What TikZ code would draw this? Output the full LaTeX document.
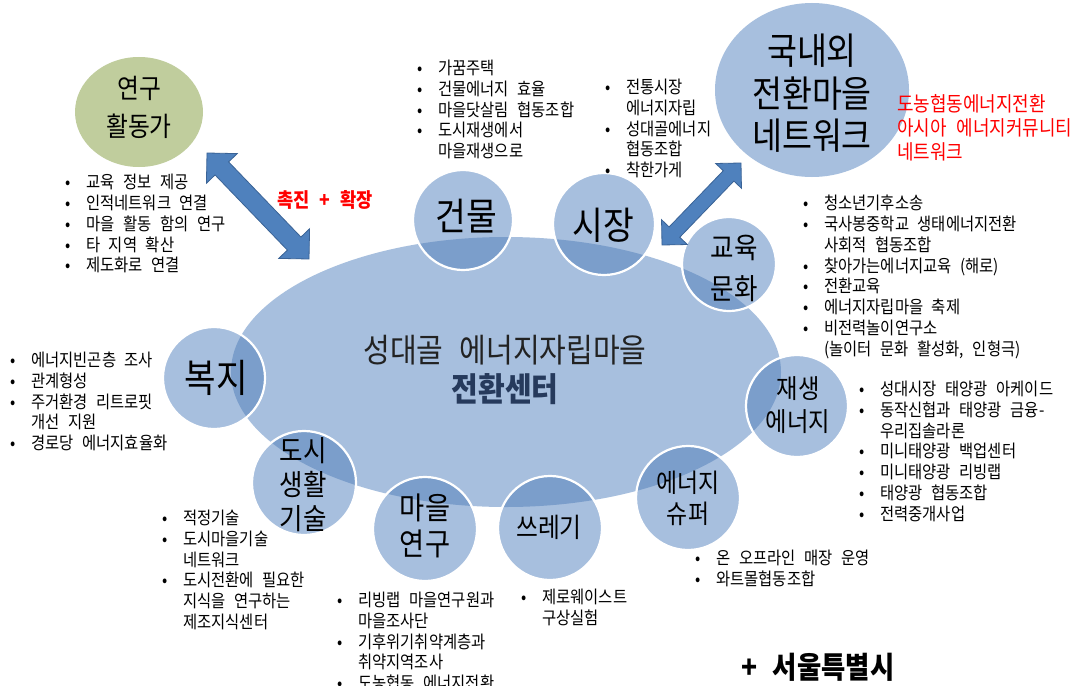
\documentclass[tikz,border=0pt]{standalone}
\usepackage{fontspec}
\setmainfont[FakeStretch=0.88, WordSpace=2.5]{Noto Sans CJK KR}
\usepackage{array}
\usetikzlibrary{shapes.arrows,calc}
\definecolor{bubble}{RGB}{167,191,222}
\definecolor{overlapc}{RGB}{123,158,203}
\definecolor{sage}{RGB}{192,205,157}
\definecolor{arrowblue}{RGB}{79,129,189}
\definecolor{arrowedge}{RGB}{58,99,150}
\definecolor{navy}{RGB}{38,58,92}
\definecolor{centertext}{RGB}{34,34,34}
\newcommand\blist[1]{\begin{tabular}[t]{@{}w{c}{0pt}@{\hspace{18pt}}l@{}}#1\end{tabular}}
\newcommand\stk[1]{\begin{tabular}[t]{@{}c@{}}#1\end{tabular}}
\newcommand\lstk[1]{\begin{tabular}[t]{@{}l@{}}#1\end{tabular}}
\newcommand\fs[2]{\fontsize{#1}{#2}\selectfont}
\begin{document}
\begin{tikzpicture}[x=1pt,y=-1pt,
  lst/.style={anchor=base west, inner sep=0pt, font=\fs{17.5}{20.7}},
  lbl/.style={anchor=base, inner sep=0pt},
  bigarrow/.style={shape=double arrow, fill=arrowblue, draw=arrowedge, line width=0.8pt,
    inner xsep=0pt, double arrow tip angle=90}]
\fill[white] (0,0) rectangle (1075,685);
\useasboundingbox (0,0) rectangle (1075,685);

% central ellipse
\coordinate (ctr) at (506,372);
\fill[bubble] (ctr) ellipse [x radius=275pt, y radius=135pt];

% satellite bubbles
\foreach \n/\x/\y/\r in {geonmul/463/220/50, sijang/604/224/51, gyoyuk/729/264/47,
    jaesaeng/797/406/51, syupeo/688/498/52, sseuregi/550/528/52, maeul/425/529/52,
    dosi/304/483/52, bokji/214/378/51} {
  \fill[bubble] (\x,\y) circle (\r pt);
  \begin{scope}
    \clip (\x,\y) circle (\r pt);
    \fill[overlapc] (ctr) ellipse [x radius=275pt, y radius=135pt];
  \end{scope}
  \draw[white, line width=2.2pt] (\x,\y) circle (\r pt);
  \coordinate (\n) at (\x,\y);
}

% research activists & network bubbles
\fill[sage] (139,112) ellipse [x radius=64pt, y radius=55pt];
\coordinate (yeongu) at (139,112);
\fill[bubble] (812,90) ellipse [x radius=97pt, y radius=87pt];
\coordinate (network) at (812,90);

% arrows
\coordinate (a1s) at (207,153);
\coordinate (a1e) at (309,259);
\coordinate (a2s) at (662,245);
\coordinate (a2e) at (741,163);
\path let \p1=($(a1e)-(a1s)$), \n1={atan2(\y1,\x1)}, \n2={veclen(\x1,\y1)} in
  node[bigarrow, inner ysep=9pt, minimum width=42pt, double arrow head extend=12pt,
       rotate=\n1, minimum height=\n2] (arr1) at ($(a1s)!0.5!(a1e)$) {};
\path let \p1=($(a2e)-(a2s)$), \n1={atan2(\y1,\x1)}, \n2={veclen(\x1,\y1)} in
  node[bigarrow, inner ysep=7pt, minimum width=35pt, double arrow head extend=10.5pt,
       rotate=\n1, minimum height=\n2] (arr2) at ($(a2s)!0.5!(a2e)$) {};

% bubble labels
\node[lbl, font=\fs{27}{38}] (tyeongu) at (139,98.3) {\stk{연구\\활동가}};
\node[lbl, font=\fs{37}{41}] (tnetwork) at (812,64) {\stk{국내외\\전환마을\\네트워크}};
\node[lbl, font=\fs{38}{40}] (tgeonmul) at (466,230.4) {건물};
\node[lbl, font=\fs{38}{40}] (tsijang) at (603,239.4) {시장};
\node[lbl, font=\fs{29}{41}] (tgyoyuk) at (734,258) {\stk{교육\\문화}};
\node[lbl, font=\fs{26.5}{33}] (tjaesaeng) at (798,398) {\stk{재생\\에너지}};
\node[lbl, font=\fs{26}{31}] (tsyupeo) at (688,492) {\stk{에너지\\슈퍼}};
\node[lbl, font=\fs{27}{30}] (tsseuregi) at (549,537.3) {쓰레기};
\node[lbl, font=\fs{31}{35}] (tmaeul) at (425,519.8) {\stk{마을\\연구}};
\node[lbl, font=\fs{29}{34}] (tdosi) at (303,461) {\stk{도시\\생활\\기술}};
\node[lbl, font=\fs{39}{40}] (tbokji) at (216,392.8) {복지};
\node[lbl, font=\fs{33}{38}, text=centertext] (tcenter) at (505,362.5)
  {\stk{성대골 에너지자립마을\\\textcolor{navy}{\bfseries 전환센터}}};

% red labels
\node[lbl, font=\fs{20}{22}\bfseries, text=red] (tpromote) at (325,207.6) {촉진 + 확장};
\node[lst, font=\fs{20.4}{22.5}, text=red] (tasia) at (897,111.8)
  {\lstk{도농협동에너지전환\\아시아 에너지커뮤니티\\네트워크}};

% bullet lists
\node[lst] (l1) at (68,188.7) {\blist{• & 교육 정보 제공\\• & 인적네트워크 연결\\• & 마을 활동 함의 연구\\• & 타 지역 확산\\• & 제도화로 연결}};
\node[lst] (l2) at (420,74.7) {\blist{• & 가꿈주택\\• & 건물에너지 효율\\• & 마을닷살림 협동조합\\• & 도시재생에서\\ & 마을재생으로}};
\node[lst] (l3) at (608,93.7) {\blist{• & 전통시장\\ & 에너지자립\\• & 성대골에너지\\ & 협동조합\\• & 착한가게}};
\node[lst] (l4) at (806,209.7) {\blist{• & 청소년기후소송\\• & 국사봉중학교 생태에너지전환\\ & 사회적 협동조합\\• & 찾아가는에너지교육 (해로)\\• & 전환교육\\• & 에너지자립마을 축제\\• & 비전력놀이연구소\\ & (놀이터 문화 활성화, 인형극)}};
\node[lst] (l5) at (862,395.7) {\blist{• & 성대시장 태양광 아케이드\\• & 동작신협과 태양광 금융-\\ & 우리집솔라론\\• & 미니태양광 백업센터\\• & 미니태양광 리빙랩\\• & 태양광 협동조합\\• & 전력중개사업}};
\node[lst] (l6) at (13,366.7) {\blist{• & 에너지빈곤층 조사\\• & 관계형성\\• & 주거환경 리트로핏\\ & 개선 지원\\• & 경로당 에너지효율화}};
\node[lst] (l7) at (165,524.7) {\blist{• & 적정기술\\• & 도시마을기술\\ & 네트워크\\• & 도시전환에 필요한\\ & 지식을 연구하는\\ & 제조지식센터}};
\node[lst] (l8) at (340,606.7) {\blist{• & 리빙랩 마을연구원과\\ & 마을조사단\\• & 기후위기취약계층과\\ & 취약지역조사\\• & 도농협동 에너지전환}};
\node[lst] (l9) at (524,603.7) {\blist{• & 제로웨이스트\\ & 구상실험}};
\node[lst] (l10) at (698,564.7) {\blist{• & 온 오프라인 매장 운영\\• & 와트몰협동조합}};

% Seoul
\node[lbl, font=\fs{30}{32}\bfseries] (tseoul) at (818,678.4) {+ 서울특별시};
\end{tikzpicture}
\end{document}
